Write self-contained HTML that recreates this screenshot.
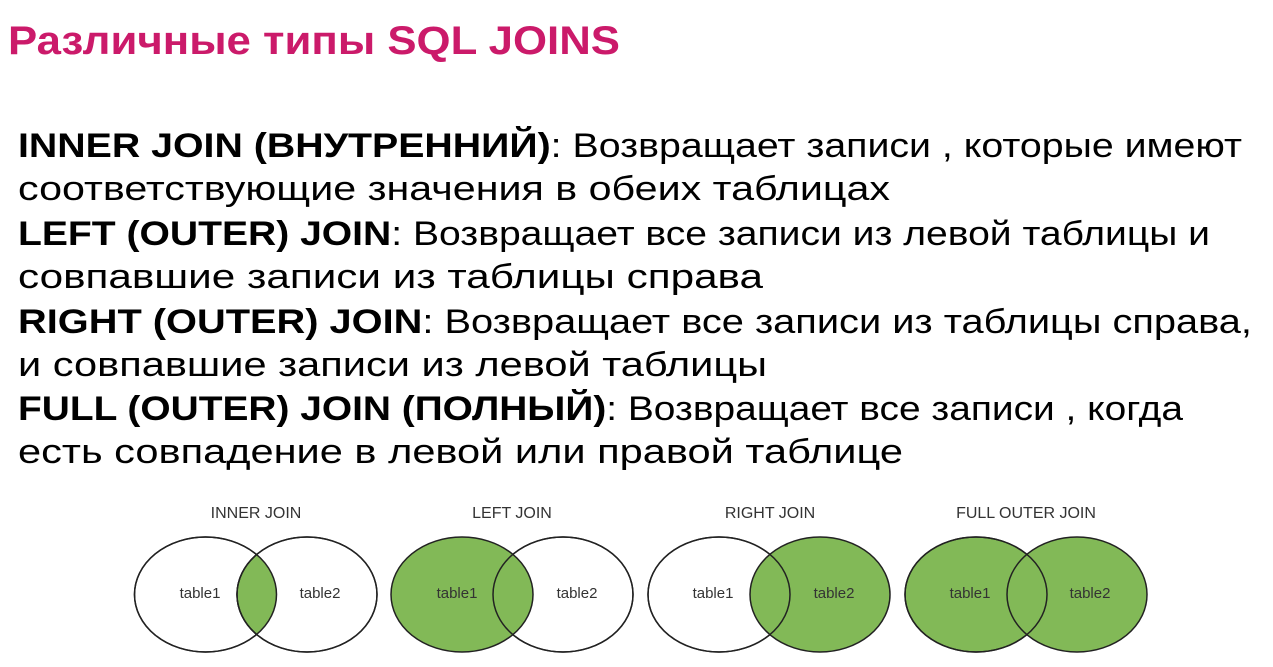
<!DOCTYPE html>
<html><head><meta charset="utf-8"><style>
html,body{margin:0;padding:0;background:#fff;width:1273px;height:667px;overflow:hidden}
</style></head><body>
<svg width="1273" height="667" xmlns="http://www.w3.org/2000/svg" font-family="Liberation Sans, DejaVu Sans, sans-serif">
<text x="8" y="54" font-size="40" font-weight="bold" fill="#cb1a6a" textLength="612" lengthAdjust="spacingAndGlyphs">Различные типы SQL JOINS</text>
<g font-size="34" fill="#000">
<text x="18" y="157" textLength="1224" lengthAdjust="spacingAndGlyphs"><tspan font-weight="bold">INNER JOIN (ВНУТРЕННИЙ)</tspan>: Возвращает записи , которые имеют</text>
<text x="18" y="200" textLength="872" lengthAdjust="spacingAndGlyphs">соответствующие значения в обеих таблицах</text>
<text x="18" y="245" textLength="1192" lengthAdjust="spacingAndGlyphs"><tspan font-weight="bold">LEFT (OUTER) JOIN</tspan>: Возвращает все записи из левой таблицы и</text>
<text x="18" y="288" textLength="745" lengthAdjust="spacingAndGlyphs">совпавшие записи из таблицы справа</text>
<text x="18" y="333" textLength="1234" lengthAdjust="spacingAndGlyphs"><tspan font-weight="bold">RIGHT (OUTER) JOIN</tspan>: Возвращает все записи из таблицы справа,</text>
<text x="18" y="376" textLength="749" lengthAdjust="spacingAndGlyphs">и совпавшие записи из левой таблицы</text>
<text x="18" y="420" textLength="1165" lengthAdjust="spacingAndGlyphs"><tspan font-weight="bold">FULL (OUTER) JOIN (ПОЛНЫЙ)</tspan>: Возвращает все записи , когда</text>
<text x="18" y="463" textLength="885" lengthAdjust="spacingAndGlyphs">есть совпадение в левой или правой таблице</text>
</g>
<defs>
<clipPath id="cl"><ellipse cx="205.5" cy="594.5" rx="71" ry="57.5"/></clipPath>
</defs>
<g stroke="#222" stroke-width="1.5">
<!-- inner -->
<g>
<ellipse cx="205.5" cy="594.5" rx="71" ry="57.5" fill="#fff"/>
<ellipse cx="307" cy="594.5" rx="70" ry="57.5" fill="#fff"/>
<ellipse cx="307" cy="594.5" rx="70" ry="57.5" fill="#82b957" clip-path="url(#cl)"/>
<ellipse cx="205.5" cy="594.5" rx="71" ry="57.5" fill="none"/>
<ellipse cx="307" cy="594.5" rx="70" ry="57.5" fill="none"/>
</g>
<!-- left -->
<g>
<ellipse cx="563" cy="594.5" rx="70" ry="57.5" fill="#fff"/>
<ellipse cx="462" cy="594.5" rx="71" ry="57.5" fill="#82b957"/>
<ellipse cx="563" cy="594.5" rx="70" ry="57.5" fill="none"/>
</g>
<!-- right -->
<g>
<ellipse cx="719" cy="594.5" rx="71" ry="57.5" fill="#fff"/>
<ellipse cx="820" cy="594.5" rx="70" ry="57.5" fill="#82b957"/>
<ellipse cx="719" cy="594.5" rx="71" ry="57.5" fill="none"/>
</g>
<!-- full -->
<g>
<ellipse cx="976" cy="594.5" rx="71" ry="57.5" fill="#82b957"/>
<ellipse cx="1077" cy="594.5" rx="70" ry="57.5" fill="#82b957"/>
<ellipse cx="976" cy="594.5" rx="71" ry="57.5" fill="none"/>
</g>
</g>
<g font-size="16" fill="#333" text-anchor="middle">
<text x="256" y="518">INNER JOIN</text>
<text x="512" y="518">LEFT JOIN</text>
<text x="770" y="518">RIGHT JOIN</text>
<text x="1026" y="518">FULL OUTER JOIN</text>
</g>
<g font-size="15" fill="#333" text-anchor="middle">
<text x="200" y="598">table1</text><text x="320" y="598">table2</text>
<text x="457" y="598">table1</text><text x="577" y="598">table2</text>
<text x="713" y="598">table1</text><text x="834" y="598">table2</text>
<text x="970" y="598">table1</text><text x="1090" y="598">table2</text>
</g>
</svg>
</body></html>
